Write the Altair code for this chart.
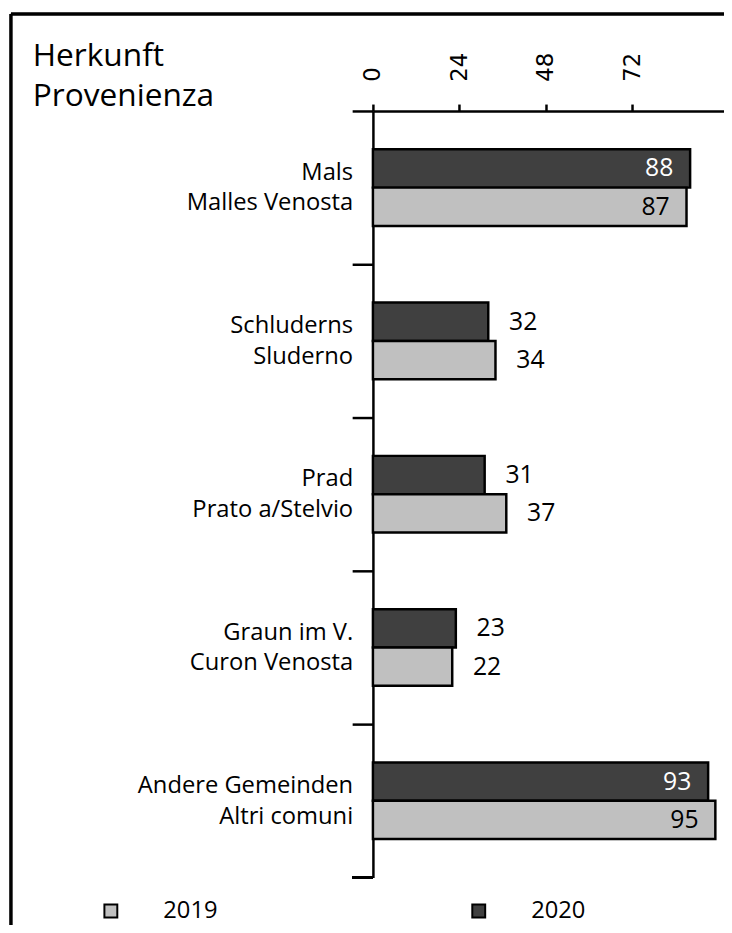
import altair as alt
import pandas as pd

categories = ["Mals\nMalles Venosta", "Schluderns\nSluderno", "Prad\nPrato a/Stelvio",
              "Graun im V.\nCuron Venosta", "Andere Gemeinden\nAltri comuni"]
values_2019 = [87, 34, 37, 22, 95]
values_2020 = [88, 32, 31, 23, 93]
years = ["2019", "2020"]
tick_values = [0, 24, 48, 72]
title_text = "Herkunft\nProvenienza"

rows = []
for c, v19, v20 in zip(categories, values_2019, values_2020):
    rows.append({"cat": c, "year": "2020", "value": v20})
    rows.append({"cat": c, "year": "2019", "value": v19})
df = pd.DataFrame(rows)
cat_df = pd.DataFrame({"cat": categories})
title_df = pd.DataFrame({"t": [title_text]})

FONT = "Open Sans"
W, H = 355, 775

y_enc = alt.Y("cat:N", sort=categories,
              scale=alt.Scale(paddingInner=0, paddingOuter=0),
              axis=alt.Axis(labels=False, title=None, bandPosition=0, tickSize=21,
                            tickWidth=2.5, domainWidth=2.5, tickColor="black",
                            domainColor="black"))
x_enc = alt.X("value:Q", scale=alt.Scale(domain=[0, 97.4], nice=False),
              axis=alt.Axis(orient="top", values=tick_values, title=None,
                            labelAngle=270, labelAlign="left", labelBaseline="middle",
                            labelFontSize=23, labelFont="DejaVu Sans", labelColor="black",
                            labelPadding=23, tickSize=7, tickWidth=2.5,
                            domainWidth=2.5, tickColor="black", domainColor="black",
                            grid=False))
yoff = alt.YOffset("year:N", sort=["2020", "2019"],
                   scale=alt.Scale(paddingInner=0, paddingOuter=1))

base = alt.Chart(df)

bars = base.mark_bar(stroke="black", strokeWidth=2.5).encode(
    x=x_enc, y=y_enc, yOffset=yoff,
    color=alt.Color("year:N", sort=years,
                    scale=alt.Scale(domain=years, range=["#c0c0c0", "#404040"]),
                    legend=alt.Legend(title=None, orient="none", legendX=-277,
                                      legendY=797, direction="horizontal",
                                      columns=2, symbolType="square",
                                      symbolSize=170, symbolStrokeColor="black",
                                      symbolStrokeWidth=2, labelFontSize=24,
                                      labelFont=FONT, labelOffset=41,
                                      columnPadding=252, padding=0,
                                      labelColor="black")),
)

inside = base.transform_filter("datum.value > 50").mark_text(
    align="right", baseline="middle", dx=-17, fontSize=25, font=FONT
).encode(
    x="value:Q", y=alt.Y("cat:N", sort=categories), yOffset=yoff,
    text="value:Q",
    color=alt.condition("datum.year == '2020'", alt.value("white"), alt.value("black")),
)

outside = base.transform_filter("datum.value <= 50").mark_text(
    align="left", baseline="middle", dx=21, fontSize=25, font=FONT, color="black"
).encode(
    x="value:Q", y=alt.Y("cat:N", sort=categories), yOffset=yoff,
    text="value:Q",
)

cat_labels = alt.Chart(cat_df).mark_text(
    align="right", baseline="middle", lineBreak="\n", lineHeight=31,
    fontSize=24, font=FONT, color="black", dx=-20, dy=-15
).encode(
    x=alt.value(0), y=alt.Y("cat:N", sort=categories), text="cat:N"
)

title = alt.Chart(title_df).mark_text(
    align="left", baseline="alphabetic", lineBreak="\n", lineHeight=40,
    fontSize=32, font=FONT, color="black"
).encode(x=alt.value(-344), y=alt.value(-45), text="t:N")

# bottom tick of the category axis
bottom_tick = alt.Chart(cat_df).mark_rule(color="black", strokeWidth=2.5).encode(
    x=alt.value(-21), x2=alt.value(0), y=alt.value(H)
)

# outer frame (left and top edges)
frame_left = alt.Chart(cat_df).mark_rule(color="black", strokeWidth=2.5, clip=False).encode(
    x=alt.value(-366), y=alt.value(-98), y2=alt.value(H + 50)
)
frame_top = alt.Chart(cat_df).mark_rule(color="black", strokeWidth=2.5, clip=False).encode(
    x=alt.value(-366), x2=alt.value(W + 10), y=alt.value(-98)
)

chart = alt.layer(bars, inside, outside, cat_labels, title, bottom_tick,
                  frame_left, frame_top).properties(
    width=W, height=H,
    autosize=alt.AutoSizeParams(type="none"),
    padding={"left": 369, "top": 99, "right": 0, "bottom": 43},
).configure_view(stroke=None).configure_axis(labelFont=FONT)

chart.save("out.html", embed_options={"renderer": "svg", "actions": False})
